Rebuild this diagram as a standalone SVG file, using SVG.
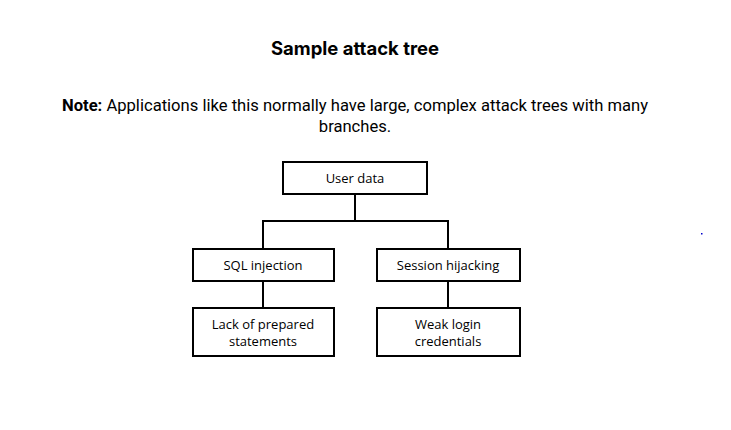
<svg xmlns="http://www.w3.org/2000/svg" width="731" height="430" viewBox="0 0 731 430">
<style>
.box{fill:#fff;stroke:#000;stroke-width:2}
.lbl{font-family:"Open Sans","Liberation Sans",sans-serif;font-size:13px;fill:#000;text-anchor:middle}
.con{fill:none;stroke:#000;stroke-width:2}
</style>
<rect width="731" height="430" fill="#fff"/>
<text x="355" y="55" text-anchor="middle" font-family="Inter,'Liberation Sans',sans-serif" font-size="18.5" font-weight="bold">Sample attack tree</text>
<text x="355" y="111" text-anchor="middle" font-family="Roboto,'Liberation Sans',sans-serif" font-size="16.6"><tspan font-weight="bold">Note:</tspan> Applications like this normally have large, complex attack trees with many</text>
<text x="355" y="132" text-anchor="middle" font-family="Roboto,'Liberation Sans',sans-serif" font-size="16.6">branches.</text>
<g id="connectors">
<path class="con" d="M355 194V221M263 221H448M263 220V249M448 220V249M263 281V308M448 281V308"/>
</g>
<g id="user-data"><rect class="box" x="283" y="162" width="144" height="32"/><text class="lbl" x="355" y="183">User data</text></g>
<g id="sql-injection"><rect class="box" x="193" y="249" width="141" height="32"/><text class="lbl" x="263" y="270">SQL injection</text></g>
<g id="session-hijacking"><rect class="box" x="377" y="249" width="143" height="32"/><text class="lbl" x="448" y="270">Session hijacking</text></g>
<g id="lack-prepared"><rect class="box" x="193" y="308" width="141" height="48"/><text class="lbl" x="263" y="329">Lack of prepared</text><text class="lbl" x="263" y="346">statements</text></g>
<g id="weak-login"><rect class="box" x="377" y="308" width="143" height="48"/><text class="lbl" x="448" y="329">Weak login</text><text class="lbl" x="448" y="346">credentials</text></g>
<rect x="701" y="233" width="1.5" height="1.5" fill="#0000cc"/>
</svg>
